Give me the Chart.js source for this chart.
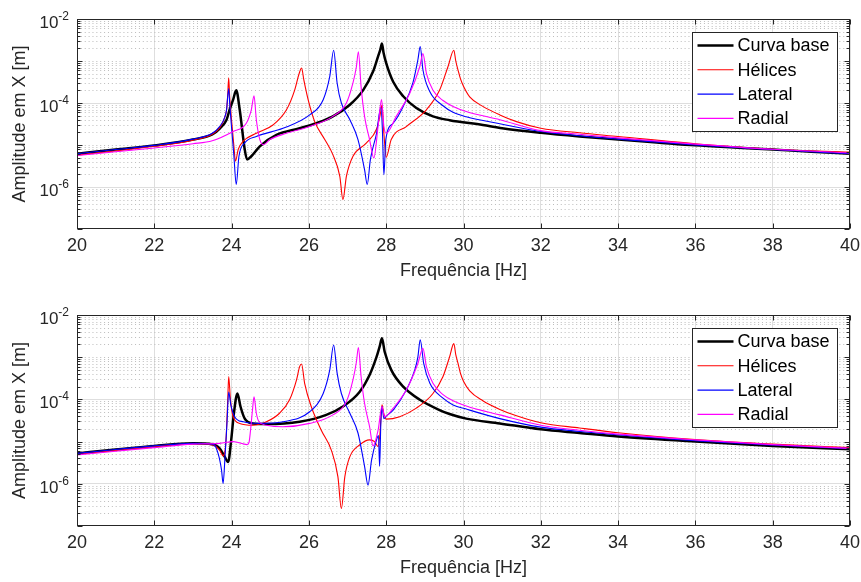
<!DOCTYPE html>
<html>
<head>
<meta charset="utf-8">
<script src="https://cdn.jsdelivr.net/npm/chart.js@4.4.1/dist/chart.umd.min.js"></script>
<style>
  html, body { margin: 0; padding: 0; background: #fff; }
  #wrap { position: relative; width: 861px; height: 582px; }
  canvas { position: absolute; left: 0; }
</style>
</head>
<body>
<div id="wrap">
  <canvas id="topPlot" width="861" height="290" style="top:0"></canvas>
  <canvas id="botPlot" width="861" height="292" style="top:290px"></canvas>
</div>
<script>
// FRF amplitude curves (Hz / m)
const seriesNames = ['Curva base', 'Hélices', 'Lateral', 'Radial'];
const seriesColors = ['#000000', '#ff0000', '#0000ff', '#ff00ff'];
const seriesWidths = [2.5, 1.1, 1.1, 1.1];

const xTicks = [20, 22, 24, 26, 28, 30, 32, 34, 36, 38, 40];
const yMajorTicks = [1e-6, 1e-4, 1e-2];
const yTickExp = ['-6', '-4', '-2'];

// --- top plot ---
const topF_base = [20,21,22,23,23.5,23.7,23.87,23.95,24.04,24.12,24.21,24.34,24.40,24.51,24.73,25.16,25.76,26.19,26.62,27.06,27.40,27.66,27.79,27.85,27.89,27.93,28.0,28.18,28.44,28.78,29.21,29.64,30.5,31,32,33,34,35,36,37,38,39,40];
const topA_base = [6.2e-6,7.8e-6,9.8e-6,1.35e-5,1.8e-5,2.5e-5,4.0e-5,7.0e-5,1.2e-4,2.0e-4,6.9e-5,7.8e-6,4.5e-6,5.4e-6,9.3e-6,1.74e-5,2.5e-5,3.3e-5,4.8e-5,9.1e-5,2.0e-4,5.6e-4,1.29e-3,1.9e-3,2.6e-3,1.6e-3,8.9e-4,3.2e-4,1.45e-4,7.6e-5,4.8e-5,3.9e-5,3.0e-5,2.5e-5,1.95e-5,1.6e-5,1.35e-5,1.15e-5,9.8e-6,8.7e-6,7.8e-6,6.9e-6,6.2e-6];

const topF_hel = [20,21,22,23,23.5,23.7,23.82,23.87,23.90,23.925,23.95,23.99,24.06,24.10,24.17,24.30,24.64,25.07,25.42,25.63,25.75,25.81,25.87,25.98,26.15,26.41,26.62,26.80,26.88,26.97,27.14,27.49,27.75,27.84,27.89,27.94,28.0,28.13,28.52,29.04,29.38,29.60,29.75,29.80,29.86,29.92,30.0,30.16,30.5,30.94,31.37,32,33,34,36,38,40];
const topA_hel = [5.75e-6,7.2e-6,9.3e-6,1.3e-5,1.8e-5,2.6e-5,4.5e-5,6.9e-5,1.6e-4,4.0e-4,1.4e-4,4.8e-5,9.3e-6,4.1e-6,7.8e-6,1.23e-5,1.9e-5,3.0e-5,6.9e-5,2.0e-4,5.1e-4,6.8e-4,3.5e-4,1.2e-4,3.6e-5,1.35e-5,5.9e-6,1.8e-6,5.0e-7,1.8e-6,5.4e-6,1.12e-5,2.4e-5,5.0e-5,8.9e-5,1.9e-5,5.1e-6,1.35e-5,2.75e-5,6.9e-5,2.0e-4,7.4e-4,1.8e-3,1.0e-3,6.0e-4,3.8e-4,2.5e-4,1.4e-4,8.3e-5,5.2e-5,3.6e-5,2.5e-5,1.95e-5,1.6e-5,1.07e-5,7.9e-6,6.8e-6];

const topF_lat = [20,21,22,23,23.5,23.69,23.82,23.87,23.925,23.95,23.99,24.06,24.12,24.19,24.34,24.64,25.33,26.02,26.37,26.54,26.64,26.73,26.84,27.06,27.27,27.44,27.51,27.59,27.75,27.86,27.90,27.94,27.99,28.18,28.44,28.69,28.82,28.88,28.95,29.13,29.47,29.73,30.07,30.94,32,33,34,36,38,40];
const topA_lat = [6.2e-6,7.8e-6,9.8e-6,1.38e-5,1.9e-5,2.75e-5,4.5e-5,6.9e-5,2.2e-4,1.0e-4,3.3e-5,5.4e-6,1.15e-6,5.4e-6,1.12e-5,1.6e-5,2.5e-5,5.2e-5,1.2e-4,4.3e-4,1.8e-3,3.0e-4,1.0e-4,4.0e-5,1.35e-5,2.6e-6,1.15e-6,4.5e-6,1.9e-5,7.9e-5,2.5e-5,1.95e-6,1.35e-5,3.3e-5,8.3e-5,3.0e-4,1.07e-3,2.2e-3,6.2e-4,1.86e-4,8.6e-5,6.0e-5,4.7e-5,3.2e-5,2.1e-5,1.66e-5,1.38e-5,1.0e-5,7.8e-6,6.2e-6];

const topF_rad = [20,21,22,23,23.5,24.04,24.38,24.51,24.58,24.64,24.73,24.83,24.99,25.42,26.02,26.62,26.97,27.14,27.23,27.28,27.35,27.44,27.57,27.68,27.79,27.88,27.94,28.0,28.26,28.61,28.87,28.95,29.04,29.21,29.47,29.73,30.07,30.94,32,33,34,36,38,40];
const topA_rad = [5.6e-6,6.9e-6,8.5e-6,1.07e-5,1.26e-5,2.1e-5,3.3e-5,6.9e-5,1.48e-4,4.0e-5,1.35e-5,1.02e-5,1.35e-5,1.9e-5,2.75e-5,4.8e-5,1.0e-4,3.0e-4,7.4e-4,1.66e-3,2.45e-4,4.8e-5,1.35e-5,4.9e-6,2.75e-5,1.2e-4,2.75e-5,1.9e-5,4.8e-5,1.7e-4,7.4e-4,1.5e-3,5.1e-4,2.0e-4,1.15e-4,8.3e-5,6.3e-5,4.0e-5,2.2e-5,1.8e-5,1.48e-5,1.05e-5,7.9e-6,6.5e-6];

// --- bottom plot ---
const botF_base = [20,21,22,23,23.5,23.69,23.82,23.91,23.99,24.06,24.15,24.23,24.34,24.55,24.9,25.76,26.45,26.88,27.31,27.57,27.75,27.83,27.89,27.96,28.13,28.44,28.87,29.38,29.64,30.07,30.94,32,33,34,36,38,40];
const botA_base = [5.25e-6,6.5e-6,7.9e-6,9.1e-6,8.7e-6,6.9e-6,4.4e-6,3.3e-6,1.1e-5,4.7e-5,1.38e-4,6.8e-5,3.5e-5,2.7e-5,2.6e-5,2.95e-5,4.3e-5,6.8e-5,1.5e-4,3.8e-4,1.02e-3,1.78e-3,2.8e-3,1.35e-3,5.0e-4,2.0e-4,9.8e-5,5.6e-5,4.5e-5,3.5e-5,2.7e-5,1.95e-5,1.6e-5,1.32e-5,1.0e-5,7.9e-6,6.6e-6];

const botF_hel = [20,21,22,23,23.52,23.69,23.78,23.85,23.90,23.925,23.97,24.04,24.21,24.55,24.9,25.24,25.5,25.68,25.76,25.81,25.89,26.06,26.32,26.58,26.75,26.84,26.93,27.06,27.31,27.57,27.70,27.79,27.84,27.89,27.94,28.0,28.35,28.78,29.21,29.47,29.64,29.75,29.80,29.86,29.92,30.0,30.16,30.5,30.94,31.37,32,33,34,36,38,40];
const botA_hel = [5.0e-6,6.2e-6,7.6e-6,8.9e-6,8.3e-6,6.3e-6,4.6e-6,9.1e-6,9.8e-5,3.5e-4,9.8e-5,3.9e-5,2.7e-5,2.45e-5,2.95e-5,4.7e-5,9.8e-5,2.9e-4,6.0e-4,6.9e-4,2.4e-4,6.8e-5,1.86e-5,6.3e-6,1.48e-6,2.6e-7,1.48e-6,4.4e-6,8.3e-6,1.1e-5,1.0e-5,7.6e-6,1.6e-5,7.4e-5,4.5e-5,3.4e-5,3.9e-5,6.2e-5,1.38e-4,3.5e-4,1.02e-3,2.1e-3,1.15e-3,7.0e-4,4.2e-4,2.7e-4,1.6e-4,9.3e-5,5.8e-5,4.1e-5,2.8e-5,2.1e-5,1.62e-5,1.12e-5,8.7e-6,7.2e-6];

const botF_lat = [20,21,22,23,23.52,23.65,23.74,23.78,23.83,23.88,23.925,23.98,24.08,24.3,24.73,25.33,26.02,26.37,26.54,26.64,26.73,26.84,27.06,27.27,27.44,27.53,27.62,27.75,27.80,27.83,27.86,27.89,27.94,28.0,28.18,28.52,28.74,28.82,28.88,28.97,29.13,29.47,29.73,30.07,30.94,32,33,34,36,38,40];
const botA_lat = [5.25e-6,6.5e-6,7.9e-6,9.1e-6,8.7e-6,5.25e-6,2.1e-6,1.02e-6,4.4e-6,2.7e-5,1.5e-4,7.4e-5,3.9e-5,2.95e-5,2.7e-5,2.95e-5,5.1e-5,1.38e-4,5.0e-4,1.95e-3,4.2e-4,1.38e-4,4.7e-5,1.6e-5,2.6e-6,9.3e-7,3.6e-6,1.1e-5,1.4e-5,2.6e-6,2.5e-5,6.8e-5,3.5e-5,4.0e-5,5.6e-5,1.66e-4,5.0e-4,1.02e-3,2.6e-3,7.1e-4,2.4e-4,1.07e-4,7.4e-5,5.9e-5,3.5e-5,2.2e-5,1.74e-5,1.45e-5,1.05e-5,8.3e-6,6.8e-6];

const botF_rad = [20,21,22,23,23.69,24.04,24.40,24.45,24.49,24.54,24.58,24.64,24.71,24.9,25.33,26.02,26.62,26.97,27.14,27.23,27.28,27.35,27.44,27.57,27.66,27.79,27.89,27.96,28.18,28.52,28.82,28.95,29.04,29.21,29.47,29.73,30.07,30.94,32,33,34,36,38,40];
const botA_rad = [4.8e-6,5.9e-6,7.2e-6,8.7e-6,9.1e-6,1.0e-5,8.5e-6,9.5e-6,1.86e-5,5.6e-5,1.15e-4,4.7e-5,2.95e-5,2.45e-5,2.25e-5,2.7e-5,4.3e-5,8.9e-5,2.9e-4,7.8e-4,1.7e-3,3.5e-4,8.1e-5,2.25e-5,7.9e-6,1.86e-5,6.8e-5,3.9e-5,6.2e-5,1.66e-4,7.1e-4,1.62e-3,6.0e-4,2.4e-4,1.3e-4,9.3e-5,7.0e-5,4.3e-5,2.45e-5,1.86e-5,1.5e-5,1.1e-5,8.5e-6,6.9e-6];

const FONT = "'Liberation Sans', Arial, Helvetica, sans-serif";
const AXIS = '#262626';
const GRID = '#dedede';

function pts(f, a) { return f.map((x, i) => ({ x, y: a[i] })); }

// matlab-ish frame: dotted minor grid, box, inward ticks, 10^n labels, titles, legend
const matlabLook = {
  id: 'matlabLook',
  beforeDatasetsDraw(chart) {
    const { ctx, chartArea: a, scales: { y } } = chart;
    ctx.save();
    ctx.strokeStyle = '#bcbcbc';
    ctx.lineWidth = 1;
    ctx.setLineDash([1, 2.87]);
    for (let k = -7; k <= -3; k++) {
      for (let m = 1; m <= 9; m++) {
        if (m === 1 && (k === -7 || k === -6 || k === -4)) continue;
        const py = Math.round(y.getPixelForValue(m * Math.pow(10, k))) + 0.5;
        ctx.beginPath(); ctx.moveTo(a.left, py); ctx.lineTo(a.right, py); ctx.stroke();
      }
    }
    ctx.restore();
  },
  afterDatasetsDraw(chart) {
    const { ctx, chartArea: a, scales: { x, y } } = chart;
    const L = Math.round(a.left) + 0.5, R = Math.round(a.right) - 0.5;
    const T = Math.round(a.top) + 0.5, B = Math.round(a.bottom) - 0.5;
    ctx.save();
    ctx.strokeStyle = AXIS;
    ctx.lineWidth = 1;
    ctx.strokeRect(L, T, R - L, B - T);
    ctx.beginPath();
    xTicks.forEach(v => {
      const px = Math.round(x.getPixelForValue(v)) + 0.5;
      ctx.moveTo(px, B); ctx.lineTo(px, B - 5);
      ctx.moveTo(px, T); ctx.lineTo(px, T + 5);
    });
    for (let k = -7; k <= -2; k++) {
      for (let m = 1; m <= 9; m++) {
        const v = m * Math.pow(10, k);
        if (v > 1.0001e-2) break;
        const py = Math.round(y.getPixelForValue(v)) + 0.5;
        const len = (m === 1) ? 5 : 3;
        ctx.moveTo(L, py); ctx.lineTo(L + len, py);
        ctx.moveTo(R, py); ctx.lineTo(R - len, py);
      }
    }
    ctx.stroke();

    // y tick labels 10^n
    ctx.fillStyle = AXIS;
    ctx.textBaseline = 'alphabetic';
    ctx.textAlign = 'left';
    yMajorTicks.forEach((v, i) => {
      const py = y.getPixelForValue(v);
      ctx.font = '12px ' + FONT;
      const we = ctx.measureText(yTickExp[i]).width;
      ctx.font = '17px ' + FONT;
      const wb = ctx.measureText('10').width;
      const right = a.left - 8;
      ctx.fillText('10', right - we - wb, py + 9);
      ctx.font = '12px ' + FONT;
      ctx.fillText(yTickExp[i], right - we, py + 1);
    });

    // axis titles
    ctx.font = '18px ' + FONT;
    ctx.textAlign = 'center';
    ctx.textBaseline = 'middle';
    ctx.fillText('Frequência [Hz]', (a.left + a.right) / 2, a.bottom + 42);
    ctx.save();
    ctx.translate(20, (a.top + a.bottom) / 2);
    ctx.rotate(-Math.PI / 2);
    ctx.fillText('Amplitude em X [m]', 0, 0);
    ctx.restore();

    // legend box
    const lw = 145, lh = 99;
    const lx = Math.round(a.right) - 13 - lw + 0.5, ly = Math.round(a.top) + 13 + 0.5;
    ctx.fillStyle = '#ffffff';
    ctx.fillRect(lx, ly, lw, lh);
    ctx.strokeStyle = AXIS;
    ctx.lineWidth = 1;
    ctx.strokeRect(lx, ly, lw, lh);
    ctx.textAlign = 'left';
    ctx.font = '18px ' + FONT;
    seriesNames.forEach((name, i) => {
      const yy = ly + 13 + i * 24.3;
      ctx.strokeStyle = seriesColors[i];
      ctx.lineWidth = seriesWidths[i];
      ctx.beginPath(); ctx.moveTo(lx + 5, yy); ctx.lineTo(lx + 41, yy); ctx.stroke();
      ctx.fillStyle = '#000000';
      ctx.fillText(name, lx + 45, yy + 1);
    });
    ctx.restore();
  }
};

function makeChart(id, padTop, xAxisHeight, data) {
  return new Chart(document.getElementById(id), {
    type: 'line',
    data: {
      datasets: data.map((d, i) => ({
        label: seriesNames[i],
        data: d,
        borderColor: seriesColors[i],
        borderWidth: seriesWidths[i],
        pointRadius: 0,
        cubicInterpolationMode: 'monotone',
        borderJoinStyle: 'round',
        order: 3 - i
      }))
    },
    options: {
      responsive: false,
      animation: false,
      devicePixelRatio: 1,
      layout: { padding: { left: 0, right: 11, top: padTop, bottom: 0 } },
      plugins: { legend: { display: false }, tooltip: { enabled: false } },
      scales: {
        x: {
          type: 'linear', min: 20, max: 40,
          afterBuildTicks: s => { s.ticks = xTicks.map(v => ({ value: v })); },
          ticks: { color: AXIS, font: { family: FONT, size: 18 }, padding: 6, maxRotation: 0, autoSkip: false },
          grid: { color: GRID, drawTicks: false },
          border: { display: false },
          afterFit: s => { s.height = xAxisHeight; s.paddingLeft = 0; s.paddingRight = 0; }
        },
        y: {
          type: 'logarithmic', min: 1e-7, max: 1e-2,
          afterBuildTicks: s => { s.ticks = yMajorTicks.map(v => ({ value: v })); },
          ticks: { display: false },
          grid: { color: GRID, drawTicks: false },
          border: { display: false },
          afterFit: s => { s.width = 77; }
        }
      }
    },
    plugins: [matlabLook]
  });
}

makeChart('topPlot', 19, 61, [
  pts(topF_base, topA_base), pts(topF_hel, topA_hel), pts(topF_lat, topA_lat), pts(topF_rad, topA_rad)
]);
makeChart('botPlot', 25, 56, [
  pts(botF_base, botA_base), pts(botF_hel, botA_hel), pts(botF_lat, botA_lat), pts(botF_rad, botA_rad)
]);
</script>
</body>
</html>
